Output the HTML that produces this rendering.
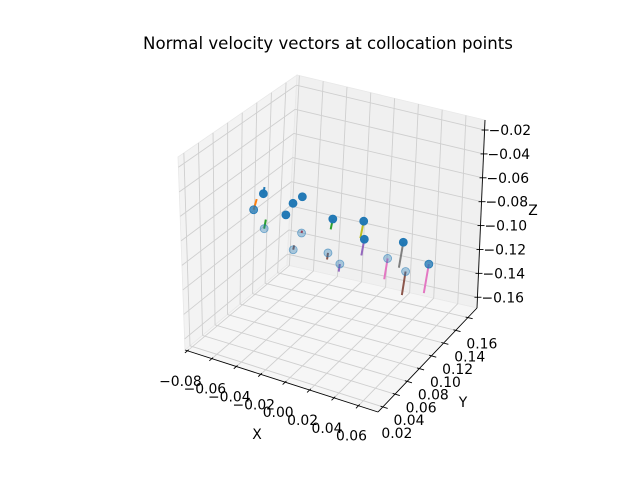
<!DOCTYPE html>
<html><head><meta charset="utf-8"><style>
html,body{margin:0;padding:0;background:#fff;}
svg{display:block;font-family:"DejaVu Sans","Liberation Sans",sans-serif;}
</style></head><body>
<svg id="chart" width="640" height="480" viewBox="0 0 640 480">
<text x="328" y="49" text-anchor="middle" font-size="16.6" fill="#000">Normal velocity vectors at collocation points</text>
<g id="panes"></g>
<g id="grid"></g>
<g id="axes"></g>
<g id="marks"></g>
<text x="257" y="439" text-anchor="middle" font-size="13.9">X</text>
<text x="463" y="407" text-anchor="middle" font-size="13.9">Y</text>
<text x="533" y="215" text-anchor="middle" font-size="13.9">Z</text>
</svg>
<script>
const xTicks = [-0.08,-0.06,-0.04,-0.02,0.00,0.02,0.04,0.06];
const xTickLabels = ["−0.08","−0.06","−0.04","−0.02","0.00","0.02","0.04","0.06"];
const yTicks = [0.02,0.04,0.06,0.08,0.10,0.12,0.14,0.16];
const yTickLabels = ["0.02","0.04","0.06","0.08","0.10","0.12","0.14","0.16"];
const zTicks = [-0.02,-0.04,-0.06,-0.08,-0.10,-0.12,-0.14,-0.16];
const zTickLabels = ["−0.02","−0.04","−0.06","−0.08","−0.10","−0.12","−0.14","−0.16"];
const pointX = [-0.0773,-0.0763,-0.0498,-0.0583,-0.0526,-0.0450,-0.0188,-0.0258,-0.0194,0.0062,0.0070,0.0030,0.0128,0.0393,0.0525,0.0673,0.0692];
const pointY = [0.1243,0.1084,0.0766,0.1243,0.1243,0.1243,0.0766,0.0766,0.1243,0.1243,0.1243,0.0766,0.0766,0.1243,0.0766,0.0766,0.1084];
const pointZ = [-0.0872,-0.0934,-0.0878,-0.0997,-0.0887,-0.0813,-0.0824,-0.0982,-0.0930,-0.0881,-0.1029,-0.0925,-0.0988,-0.0969,-0.0827,-0.0892,-0.0990];
const vecU = [0.0008,0.0024,0.0014,0,0,0,0.0004,0.0008,-0.0016,-0.0025,-0.0022,-0.0008,-0.0010,-0.0033,-0.0030,-0.0033,-0.0040];
const vecW = [0.0057,0.0094,0.0079,0,0,0,0.0020,0.0039,-0.0090,-0.0148,-0.0140,-0.0057,-0.0066,-0.0220,-0.0181,-0.0205,-0.0252];
const vecColors = ["#1f77b4","#ff7f0e","#2ca02c","#d62728","#9467bd","#8c564b","#d62728","#8c564b","#2ca02c","#bcbd22","#9467bd","#8c564b","#9467bd","#7f7f7f","#e377c2","#8c564b","#e377c2"];

const XR=[-0.082,0.076], YR=[0.012,0.175], ZR=[-0.169,-0.0116];
const B00=[185,350],B10=[378,412],B01=[287,265],B11=[477,308];
const T00=[178,157],T10=[369,221],T01=[297,75],T11=[485,120];
function bil(a,b,c,d,u,v){return [a[0]*(1-u)*(1-v)+b[0]*u*(1-v)+c[0]*(1-u)*v+d[0]*u*v, a[1]*(1-u)*(1-v)+b[1]*u*(1-v)+c[1]*(1-u)*v+d[1]*u*v];}
function P(x,y,z){
  const u=(x-XR[0])/(XR[1]-XR[0]), v=(y-YR[0])/(YR[1]-YR[0]), w=(z-ZR[0])/(ZR[1]-ZR[0]);
  const f=bil(B00,B10,B01,B11,u,v), t=bil(T00,T10,T01,T11,u,v);
  return [f[0]*(1-w)+t[0]*w, f[1]*(1-w)+t[1]*w];
}
const NS="http://www.w3.org/2000/svg";
function el(tag,attrs,parent){const e=document.createElementNS(NS,tag);for(const k in attrs)e.setAttribute(k,attrs[k]);parent.appendChild(e);return e;}
function line(a,b,stroke,w,parent){return el('line',{x1:a[0],y1:a[1],x2:b[0],y2:b[1],stroke:stroke,'stroke-width':w},parent);}
function poly(pts,fill,parent){return el('polygon',{points:pts.map(p=>p.join(',')).join(' '),fill:fill,stroke:'#e8e8e8','stroke-width':0.8},parent);}

const panes=document.getElementById('panes');
let pg;
pg=poly([P(XR[0],YR[0],ZR[0]),P(XR[0],YR[1],ZR[0]),P(XR[0],YR[1],ZR[1]),P(XR[0],YR[0],ZR[1])],'#f3f3f3',panes);


pg=poly([P(XR[0],YR[1],ZR[0]),P(XR[1],YR[1],ZR[0]),P(XR[1],YR[1],ZR[1]),P(XR[0],YR[1],ZR[1])],'#f0f0f0',panes);


pg=poly([P(XR[0],YR[0],ZR[0]),P(XR[1],YR[0],ZR[0]),P(XR[1],YR[1],ZR[0]),P(XR[0],YR[1],ZR[0])],'#f6f6f6',panes);



const grid=document.getElementById('grid'), gc='#cfcfcf', gw=0.9;
xTicks.forEach(x=>{
  let l=line(P(x,YR[0],ZR[0]),P(x,YR[1],ZR[0]),gc,gw,grid);
  
  
  l=line(P(x,YR[1],ZR[0]),P(x,YR[1],ZR[1]),gc,gw,grid);
  
  
});
yTicks.forEach(y=>{
  let l=line(P(XR[0],y,ZR[0]),P(XR[1],y,ZR[0]),gc,gw,grid);
  
  
  l=line(P(XR[0],y,ZR[0]),P(XR[0],y,ZR[1]),gc,gw,grid);
  
  
});
zTicks.forEach(z=>{
  let l=line(P(XR[0],YR[0],z),P(XR[0],YR[1],z),gc,gw,grid);
  
  
  l=line(P(XR[0],YR[1],z),P(XR[1],YR[1],z),gc,gw,grid);
  
  
});

const axes=document.getElementById('axes');
let a;
a=line(P(XR[0],YR[0],ZR[0]),P(XR[1],YR[0],ZR[0]),'#000',0.9,axes);


a=line(P(XR[1],YR[0],ZR[0]),P(XR[1],YR[1],ZR[0]),'#000',0.9,axes);


a=line(P(XR[1],YR[1],ZR[0]),P(XR[1],YR[1],ZR[1]),'#000',0.9,axes);


const yr=YR[1]-YR[0], xr=XR[1]-XR[0];
xTicks.forEach((x,i)=>{
  const t=line(P(x,YR[0]+0.012*yr,ZR[0]),P(x,YR[0]-0.025*yr,ZR[0]),'#000',0.9,axes);
  
  
  const p=P(x,YR[0],ZR[0]);
  const tx=el('text',{x:p[0]-7,y:p[1]+35,'text-anchor':'middle','font-size':13.9},axes);
  tx.textContent=xTickLabels[i];
  
  
});
yTicks.forEach((y,i)=>{
  const t=line(P(XR[1]-0.012*xr,y,ZR[0]),P(XR[1]+0.025*xr,y,ZR[0]),'#000',0.9,axes);
  
  
  const p=P(XR[1],y,ZR[0]);
  const tx=el('text',{x:p[0]+14,y:p[1]+31,'text-anchor':'middle','font-size':13.9},axes);
  tx.textContent=yTickLabels[i];
  
  
});
zTicks.forEach((z,i)=>{
  const p=P(XR[1],YR[1],z);
  const t=line([p[0]-3,p[1]],[p[0]+4,p[1]],'#000',0.9,axes);
  
  
  const tx=el('text',{x:p[0]+4,y:p[1]+5,'text-anchor':'start','font-size':13.9},axes);
  tx.textContent=zTickLabels[i];
  
  
});

const marks=document.getElementById('marks');
pointX.forEach((x,i)=>{
  const a0=P(x,pointY[i],pointZ[i]), a1=P(x+vecU[i],pointY[i],pointZ[i]+vecW[i]);
  const l=line(a0,a1,vecColors[i],2,marks);
  
  
});
pointX.forEach((x,i)=>{
  const p=P(x,pointY[i],pointZ[i]);
  const v=(pointY[i]-YR[0])/yr;
  const al=Math.max(0.35,Math.min(1,0.35+0.65*(v-0.4)/0.3));
  const c=el('circle',{cx:p[0],cy:p[1],r:4,fill:'#1f77b4','fill-opacity':al,stroke:'#1f77b4','stroke-opacity':Math.min(1,al+0.2),'stroke-width':0.8},marks);
  
  
});
</script>
</body></html>
